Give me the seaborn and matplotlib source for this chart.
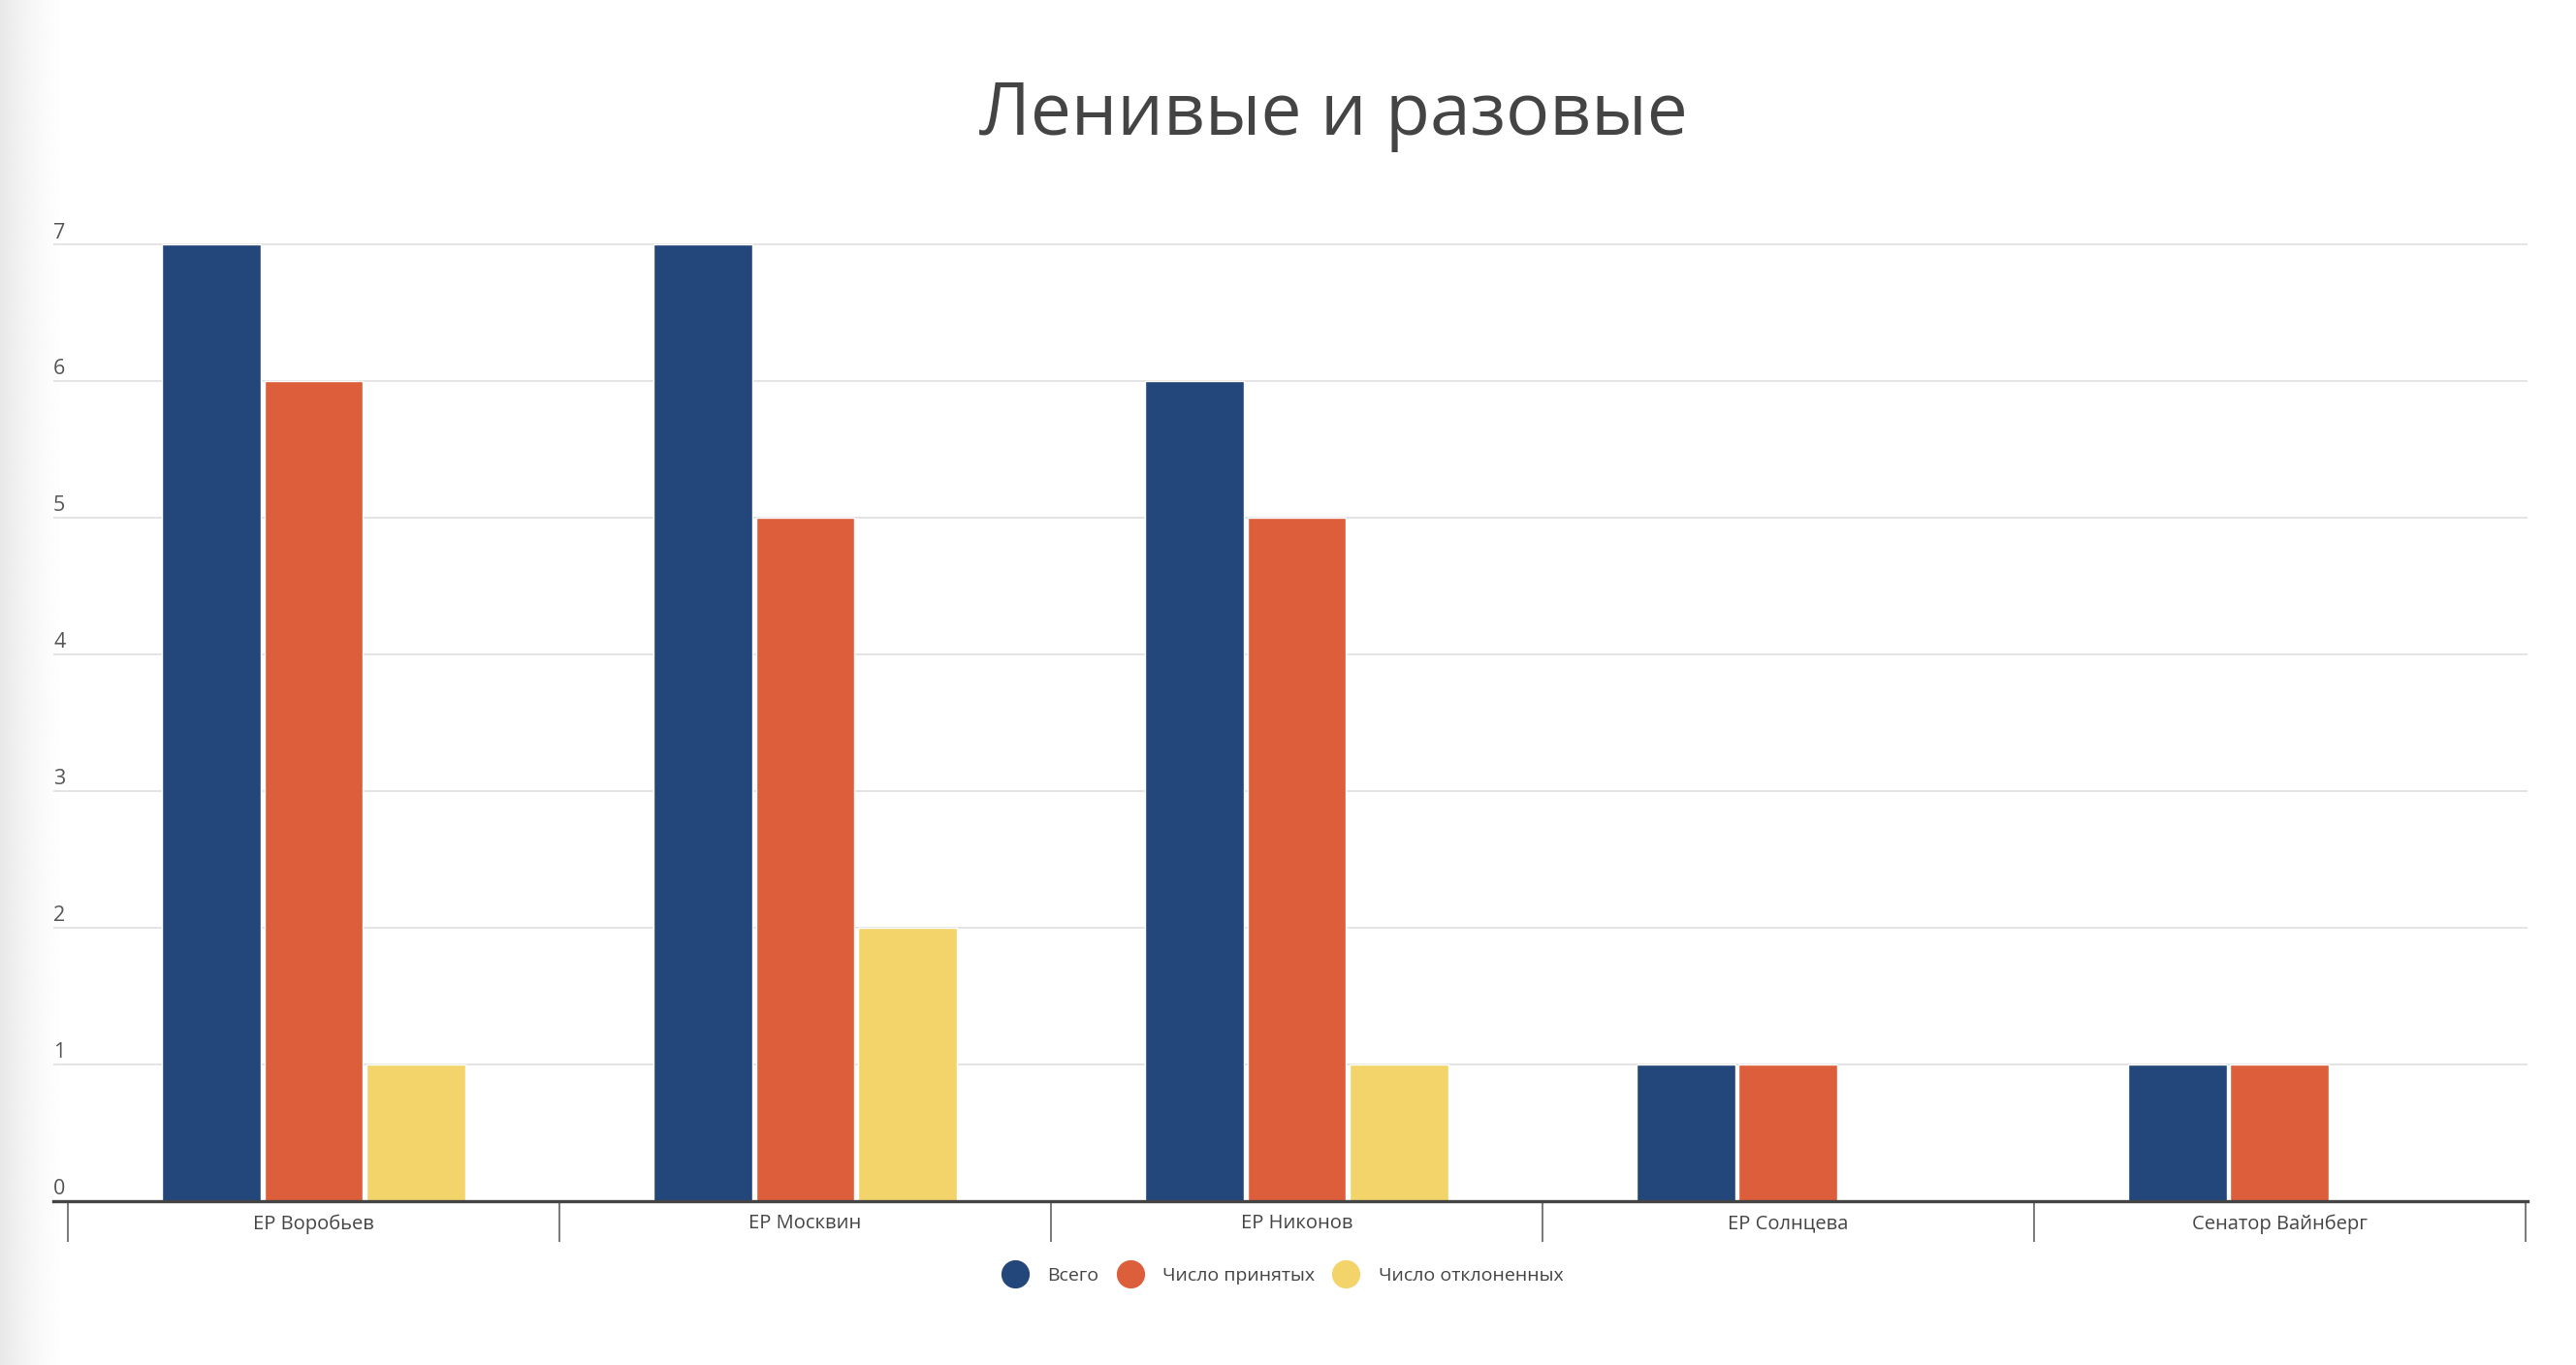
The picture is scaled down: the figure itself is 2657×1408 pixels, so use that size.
import numpy as np
import pandas as pd
import matplotlib
matplotlib.use("Agg")
import matplotlib.pyplot as plt
from matplotlib.lines import Line2D
import matplotlib.transforms as mtransforms
import seaborn as sns

# ---- data ----
categories = ["ЕР Воробьев", "ЕР Москвин", "ЕР Никонов", "ЕР Солнцева", "Сенатор Вайнберг"]
series_names = ["Всего", "Число принятых", "Число отклоненных"]
total = [7, 7, 6, 1, 1]
accepted = [6, 5, 5, 1, 1]
rejected = [1, 2, 1, 0, 0]
y_ticks = [0, 1, 2, 3, 4, 5, 6, 7]
title = "Ленивые и разовые"
colors = ["#24477b", "#dd5e3b", "#f3d46a"]

df = pd.DataFrame({
    "cat": categories * 3,
    "series": [series_names[0]] * 5 + [series_names[1]] * 5 + [series_names[2]] * 5,
    "value": total + accepted + rejected,
})

sns.set_style("white")
plt.rcParams["font.family"] = ["Open Sans", "DejaVu Sans"]

W, H = 2657, 1408
fig = plt.figure(figsize=(W / 100, H / 100), dpi=100)
fig.patch.set_facecolor("white")

# left grey gradient
gax = fig.add_axes([0, 0, 72 / W, 1], zorder=-5)
t = np.linspace(0, 1, 200)
grad = 0.91 + 0.09 * (1 - (1 - t) ** 1.6)
gax.imshow(grad[np.newaxis, :], cmap="gray", vmin=0, vmax=1, aspect="auto",
           extent=[0, 1, 0, 1])
gax.axis("off")

y_bottom = 1 - 1239 / H
y_top = 1 - 238.4 / H
ax = fig.add_axes([55 / W, y_bottom, (2607 - 55) / W, y_top - y_bottom])
ax.patch.set_alpha(0)

sns.barplot(data=df, x="cat", y="value", hue="series", hue_order=series_names,
            order=categories, palette=colors, saturation=1, width=0.624,
            gap=0.033, legend=False, ax=ax, zorder=3)

ax.set_xlim(-0.5296, 4.504)
ax.set_ylim(0, 7.1)
ax.set_xlabel("")
ax.set_ylabel("")

ax.set_yticks(y_ticks)
ax.set_yticklabels([])
ax.tick_params(axis="y", length=0)
ax.yaxis.grid(True, color="#dddddd", linewidth=1.1)
ax.xaxis.grid(False)
ax.set_axisbelow(True)

for s in ["top", "left", "right"]:
    ax.spines[s].set_visible(False)
ax.spines["bottom"].set_color("#444444")
ax.spines["bottom"].set_linewidth(2.4)
ax.spines["bottom"].set_zorder(5)

ax.set_xticks(range(len(categories)))
ax.set_xticklabels(categories, fontsize=14.5, color="#444444")
ax.set_xticks([i - 0.5 for i in range(len(categories) + 1)], minor=True)
ax.tick_params(axis="x", which="major", bottom=True, length=0, pad=9.5)
ax.tick_params(axis="x", which="minor", bottom=True, length=30, width=1.1,
               color="#555555", direction="out")

# y labels above gridlines, left-aligned
trans = mtransforms.blended_transform_factory(ax.transAxes, ax.transData)
for v in y_ticks:
    ax.annotate(str(v), xy=(0, v), xycoords=trans, xytext=(0, 5),
                textcoords="offset points", ha="left", va="baseline",
                fontsize=15.5, color="#555555")

# title
fig.text(0.5175, 1 - 139 / H, title, ha="center", va="baseline",
         fontsize=54, color="#444444")

# legend
handles = [Line2D([], [], marker="o", ls="", markersize=20,
                  markerfacecolor=c, markeredgecolor=c) for c in colors]
leg = fig.legend(handles, series_names, loc="center",
                 bbox_to_anchor=(0.4978, 1 - 1316 / H), ncol=3, frameon=False,
                 fontsize=14, handlelength=1.44, handletextpad=1.0,
                 columnspacing=0.93, borderaxespad=0)
for txt in leg.get_texts():
    txt.set_color("#444444")

fig.savefig("out.png", dpi=100, facecolor="white")
